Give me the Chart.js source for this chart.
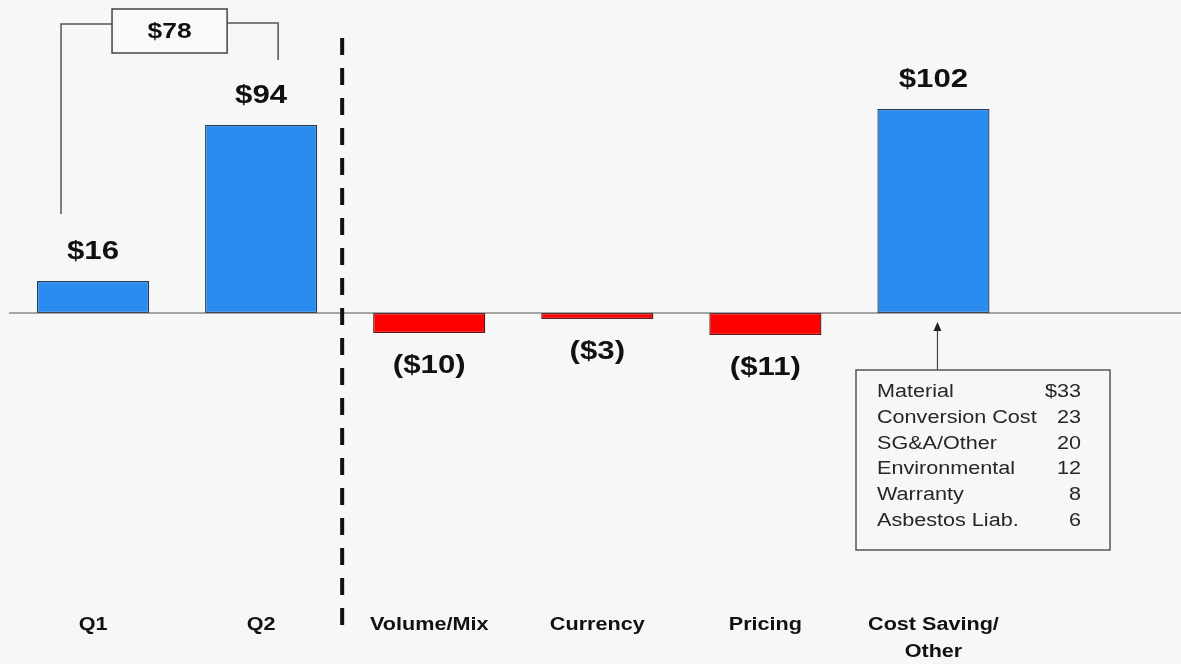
<!DOCTYPE html>
<html>
<head>
<meta charset="utf-8">
<script src="https://cdn.jsdelivr.net/npm/chart.js@4.4.1/dist/chart.umd.min.js"></script>
<style>
  html, body { margin: 0; padding: 0; background: #f7f7f7; }
  #wrap { width: 1181px; height: 664px; position: relative; }
</style>
</head>
<body>
<div id="wrap"><canvas id="c" width="1181" height="664"></canvas></div>
<script>
// Earnings bridge: Q1 to Q2, then the drivers of the change
const categories = ['Q1', 'Q2', 'Volume/Mix', 'Currency', 'Pricing', ['Cost Saving/', 'Other']];
const values = [16, 94, -10, -3, -11, 102];

// Breakdown of the cost saving bar
const costItems = ['Material', 'Conversion Cost', 'SG&A/Other', 'Environmental', 'Warranty', 'Asbestos Liab.'];
const costValues = [33, 23, 20, 12, 8, 6];

const BLUE = '#2a8cf0';
const RED = '#ff0000';
const FONT = '"Liberation Sans", Arial, Helvetica, sans-serif';
const STRETCH = 1.2; // wide presentation lettering

const fmt = v => v >= 0 ? '$' + v : '($' + (-v) + ')';

// draw text widened horizontally around its anchor
function wideText(ctx, txt, x, y) {
  ctx.save();
  ctx.translate(x, y);
  ctx.scale(STRETCH, 1);
  ctx.fillText(txt, 0, 0);
  ctx.restore();
}

const overlay = {
  id: 'overlay',
  beforeDraw(chart) {
    const ctx = chart.ctx;
    ctx.save();
    ctx.fillStyle = '#f7f7f7';
    ctx.fillRect(0, 0, chart.width, chart.height);
    ctx.restore();
  },
  afterDatasetsDraw(chart) {
    const ctx = chart.ctx;
    const x = chart.scales.x, y = chart.scales.y;
    const bars = chart.getDatasetMeta(0).data;
    const y0 = y.getPixelForValue(0);

    ctx.save();
    // zero line across the full width
    ctx.strokeStyle = '#555';
    ctx.lineWidth = 1.2;
    ctx.beginPath();
    ctx.moveTo(chart.chartArea.left, y0);
    ctx.lineTo(chart.width, y0);
    ctx.stroke();

    // category labels under the x scale's ticks
    ctx.fillStyle = '#111';
    ctx.font = 'bold 18px ' + FONT;
    ctx.textAlign = 'center';
    ctx.textBaseline = 'middle';
    x.getLabels().forEach((lab, i) => {
      const px = x.getPixelForTick(i);
      const lines = Array.isArray(lab) ? lab : [lab];
      lines.forEach((ln, j) => wideText(ctx, ln, px, 625 + j * 27));
    });

    // value labels
    ctx.font = 'bold 26px ' + FONT;
    bars.forEach((b, i) => {
      const v = values[i];
      const ty = v >= 0 ? b.y - 29 : b.y + 33;
      wideText(ctx, fmt(v), b.x, ty);
    });

    // dashed divider between the quarters and the drivers
    const divX = (x.getPixelForValue(1) + x.getPixelForValue(2)) / 2 - 3;
    ctx.strokeStyle = '#111';
    ctx.lineWidth = 4;
    ctx.setLineDash([17, 13]);
    ctx.beginPath();
    ctx.moveTo(divX, 38);
    ctx.lineTo(divX, 636);
    ctx.stroke();
    ctx.setLineDash([]);

    // Q1 -> Q2 difference bracket
    const q1 = bars[0], q2 = bars[1];
    const lx = q1.x - 32, rx = q2.x + 17;
    const topY = 24;
    const boxL = lx + 51, boxR = rx - 51, boxT = 9, boxB = 53;
    ctx.strokeStyle = '#555';
    ctx.lineWidth = 1.5;
    ctx.beginPath();
    ctx.moveTo(lx, q1.y - 67);
    ctx.lineTo(lx, topY);
    ctx.lineTo(boxL, topY);
    ctx.moveTo(boxR, topY - 1);
    ctx.lineTo(rx, topY - 1);
    ctx.lineTo(rx, q2.y - 65);
    ctx.stroke();
    ctx.fillStyle = '#f9f9f9';
    ctx.fillRect(boxL, boxT, boxR - boxL, boxB - boxT);
    ctx.strokeStyle = '#444';
    ctx.strokeRect(boxL, boxT, boxR - boxL, boxB - boxT);
    ctx.fillStyle = '#111';
    ctx.font = 'bold 22px ' + FONT;
    wideText(ctx, '$' + (values[1] - values[0]), (boxL + boxR) / 2, (boxT + boxB) / 2 + 1);

    // cost saving breakdown callout
    const cs = bars[5];
    const ax = cs.x + 4;
    const bxL = 856, bxR = 1110, bxT = 370, bxB = 550;
    ctx.strokeStyle = '#444';
    ctx.lineWidth = 1.2;
    ctx.beginPath();
    ctx.moveTo(ax, bxT);
    ctx.lineTo(ax, y0 + 16);
    ctx.stroke();
    ctx.fillStyle = '#222';
    ctx.beginPath();
    ctx.moveTo(ax, y0 + 9);
    ctx.lineTo(ax - 4, y0 + 18);
    ctx.lineTo(ax + 4, y0 + 18);
    ctx.closePath();
    ctx.fill();
    ctx.lineWidth = 1.5;
    ctx.strokeStyle = '#555';
    ctx.strokeRect(bxL, bxT, bxR - bxL, bxB - bxT);

    ctx.font = '18px ' + FONT;
    ctx.fillStyle = '#262626';
    costItems.forEach((name, i) => {
      const ry = 392 + i * 25.8;
      ctx.textAlign = 'left';
      wideText(ctx, name, 877, ry);
      ctx.textAlign = 'right';
      wideText(ctx, (i === 0 ? '$' : '') + costValues[i], 1081, ry);
    });
    ctx.restore();
  }
};

new Chart(document.getElementById('c'), {
  type: 'bar',
  data: {
    labels: categories,
    datasets: [{
      data: values,
      backgroundColor: values.map(v => v >= 0 ? BLUE : RED),
      borderColor: values.map(v => v >= 0 ? '#263a55' : '#5a1414'),
      borderWidth: 1.3,
      borderSkipped: false,
      barPercentage: 1,
      categoryPercentage: 0.667
    }]
  },
  options: {
    responsive: false,
    animation: false,
    devicePixelRatio: 1,
    layout: { padding: { left: 9, right: 163.5, top: 13, bottom: 0 } },
    plugins: { legend: { display: false }, tooltip: { enabled: false } },
    scales: {
      x: {
        grid: { display: false, drawTicks: false, tickLength: 0 },
        border: { display: false },
        ticks: { display: false },
        afterFit: s => { s.height = 71; }
      },
      y: {
        display: false,
        min: -140,
        max: 150
      }
    }
  },
  plugins: [overlay]
});
</script>
</body>
</html>
